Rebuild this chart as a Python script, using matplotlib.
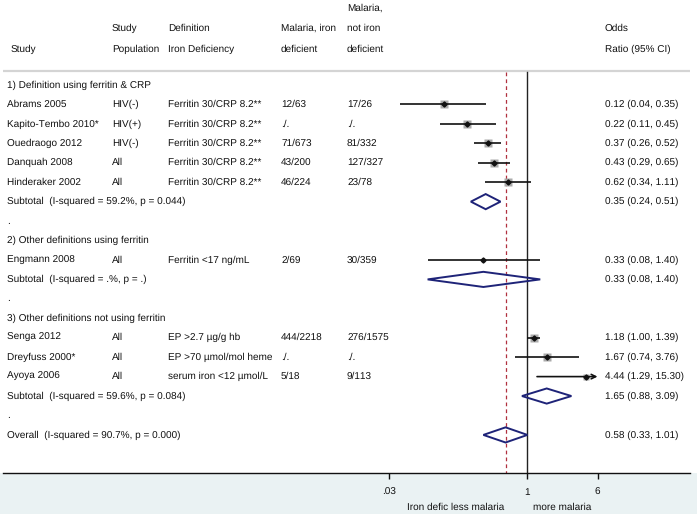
import matplotlib
matplotlib.use("Agg")
import matplotlib.pyplot as plt
from matplotlib.patches import Polygon, Rectangle
import numpy as np

plt.rcParams['font.family'] = ['Liberation Sans', 'DejaVu Sans']
plt.rcParams['text.hinting'] = 'no_hinting'
plt.rcParams['text.hinting_factor'] = 1

# ---------------- data ----------------
studies = ["Abrams 2005", "Kapito-Tembo 2010*", "Ouedraogo 2012", "Danquah 2008",
           "Hinderaker 2002", "Engmann 2008", "Senga 2012", "Dreyfuss 2000*", "Ayoya 2006"]
groups = [1, 1, 1, 1, 1, 2, 3, 3, 3]
population = ["HIV(-)", "HIV(+)", "HIV(-)", "All", "All", "All", "All", "All", "All"]
definition = ["Ferritin 30/CRP 8.2**", "Ferritin 30/CRP 8.2**", "Ferritin 30/CRP 8.2**",
              "Ferritin 30/CRP 8.2**", "Ferritin 30/CRP 8.2**", "Ferritin <17 ng/mL",
              "EP >2.7 µg/g hb", "EP >70 µmol/mol heme", "serum iron <12 µmol/L"]
mal_iron_def = ["12/63", "./.", "71/673", "43/200", "46/224", "2/69", "444/2218", "./.", "5/18"]
mal_not_def = ["17/26", "./.", "81/332", "127/327", "23/78", "30/359", "276/1575", "./.", "9/113"]
or_est = [0.12, 0.22, 0.37, 0.43, 0.62, 0.33, 1.18, 1.67, 4.44]
or_lo = [0.04, 0.11, 0.26, 0.29, 0.34, 0.08, 1.00, 0.74, 1.29]
or_hi = [0.35, 0.45, 0.52, 0.65, 1.11, 1.40, 1.39, 3.76, 15.30]
weights = [9.5, 10.5, 10.0, 11.5, 11.0, 4.0, 10.0, 9.0, 7.0]

group_titles = ["1) Definition using ferritin & CRP", "2) Other definitions using ferritin",
                "3) Other definitions not using ferritin"]
sub_labels = ["Subtotal  (I-squared = 59.2%, p = 0.044)", "Subtotal  (I-squared = .%, p = .)",
              "Subtotal  (I-squared = 59.6%, p = 0.084)"]
sub_est = [0.35, 0.33, 1.65]
sub_lo = [0.24, 0.08, 0.88]
sub_hi = [0.51, 1.40, 3.09]

overall_label = "Overall  (I-squared = 90.7%, p = 0.000)"
overall_est, overall_lo, overall_hi = 0.58, 0.33, 1.01

tick_vals = [0.03, 1, 6]
tick_labels = [".03", "1", "6"]
fav_left = "Iron defic less malaria"
fav_right = "more malaria"

# ---------------- layout ----------------
W, H = 697, 514
fig = plt.figure(figsize=(W / 100, H / 100), dpi=100)
fig.patch.set_facecolor("white")

ax_left_px, ax_right_px = 3, 690
ax_bottom_px = 472.5  # from top
band = Rectangle((0, 0), 1, (H - ax_bottom_px) / H, transform=fig.transFigure,
                 facecolor="#EAF2F3", edgecolor="none", zorder=-5)
fig.patches.append(band)
ax = fig.add_axes([ax_left_px / W, (H - ax_bottom_px) / H,
                   (ax_right_px - ax_left_px) / W, ax_bottom_px / H])
ax.set_facecolor("white")
ax.set_zorder(2)

px_per_dec = 90.6
x_one = 527.0
def px2val(px):
    return 10 ** ((px - x_one) / px_per_dec)

ax.set_xscale("log")
ax.set_xlim(px2val(ax_left_px), px2val(ax_right_px))

row0_px, row_h = 85.0, 19.44
def py2row(py):
    return (py - row0_px) / row_h
ax.set_ylim(py2row(ax_bottom_px), py2row(0))

for s in ["top", "left", "right"]:
    ax.spines[s].set_visible(False)
ax.spines["bottom"].set_color("#111111")
ax.spines["bottom"].set_linewidth(1.0)
ax.set_yticks([])
ax.set_xticks(tick_vals)
ax.set_xticklabels(tick_labels)
ax.xaxis.set_minor_locator(matplotlib.ticker.NullLocator())
ax.tick_params(axis="x", direction="out", length=4, width=1, colors="#111111",
               labelsize=6.9, pad=7)

FS = 6.9
TC = "#111111"
def xf(px):
    return (px - ax_left_px) / (ax_right_px - ax_left_px)
trans = ax.get_yaxis_transform()  # x axes-frac, y data

def txt(px, row, s, **kw):
    ax.text(xf(px), row, s, transform=trans, fontsize=FS, color=TC, va="center", ha="left", **kw)

col_study, col_pop, col_def, col_m1, col_m2, col_or = 7, 112, 168, 281, 347, 605

# headers
hdr_rows = [py2row(8), py2row(28.5), py2row(49)]
txt(11, hdr_rows[2], "Study")
txt(col_pop, hdr_rows[1], "Study")
txt(col_pop, hdr_rows[2], "Population")
txt(col_def, hdr_rows[1], "Definition")
txt(col_def, hdr_rows[2], "Iron Deficiency")
txt(col_m1, hdr_rows[1], "Malaria, iron")
txt(col_m1, hdr_rows[2], "deficient")
txt(col_m2, hdr_rows[0], "Malaria,")
txt(col_m2, hdr_rows[1], "not iron")
txt(col_m2, hdr_rows[2], "deficient")
txt(col_or, hdr_rows[1], "Odds")
txt(col_or, hdr_rows[2], "Ratio (95% CI)")

ax.plot([0, 1], [py2row(70.5)] * 2, transform=trans, color="#D4D4D4", lw=1.6,
        solid_capstyle="butt", clip_on=False)

xmax_clip = tick_vals[-1]
diamond_color = "#1E2378"

def diamond(row, est, lo, hi):
    hh = 0.39
    poly = Polygon([[lo, row], [est, row - hh], [hi, row], [est, row + hh]], closed=True,
                   facecolor="none", edgecolor=diamond_color, lw=1.4, zorder=4)
    ax.add_patch(poly)

row = 0
for g in range(3):
    txt(col_study, row, group_titles[g])
    row += 1
    for i in range(len(studies)):
        if groups[i] != g + 1:
            continue
        txt(col_study, row, studies[i])
        txt(col_pop, row, population[i])
        txt(col_def, row, definition[i])
        txt(col_m1, row, mal_iron_def[i])
        txt(col_m2, row, mal_not_def[i])
        txt(col_or, row, f"{or_est[i]:.2f} ({or_lo[i]:.2f}, {or_hi[i]:.2f})")
        side_px = 2.4 * np.sqrt(weights[i])
        ax.plot([or_est[i]], [row], marker="s", ms=side_px * 0.72, color="#ABABAB",
                mec="none", zorder=3)
        if or_hi[i] > xmax_clip:
            ax.annotate("", xy=(xmax_clip, row), xytext=(or_lo[i], row),
                        arrowprops=dict(arrowstyle="->", lw=1.2, color="#111111",
                                        shrinkA=0, shrinkB=0, mutation_scale=8), zorder=5)
        else:
            ax.plot([or_lo[i], or_hi[i]], [row, row], color="#111111", lw=1.2, zorder=5,
                    solid_capstyle="butt")
        ax.plot([or_est[i]], [row], marker="D", ms=2.6, color="#111111", zorder=6)
        row += 1
    txt(col_study, row, sub_labels[g])
    txt(col_or, row, f"{sub_est[g]:.2f} ({sub_lo[g]:.2f}, {sub_hi[g]:.2f})")
    diamond(row, sub_est[g], sub_lo[g], sub_hi[g])
    row += 1
    txt(col_study, row, ".")
    row += 1

txt(col_study, row, overall_label)
txt(col_or, row, f"{overall_est:.2f} ({overall_lo:.2f}, {overall_hi:.2f})")
diamond(row, overall_est, overall_lo, overall_hi)

line_top = py2row(72)
ybot = py2row(ax_bottom_px)
ax.plot([1, 1], [line_top, ybot], color="#222222", lw=1.0, zorder=2)
ax.plot([overall_est, overall_est], [line_top, ybot], color="#B0303F", lw=0.9,
        dashes=(3, 2.5), zorder=2)

# favours labels
fav_y = 1 - (507 - 0) / ax_bottom_px
ax.text(px2val(504), fav_y, fav_left, transform=ax.get_xaxis_transform(), fontsize=FS,
        color=TC, ha="right", va="center", clip_on=False)
ax.text(px2val(533), fav_y, fav_right, transform=ax.get_xaxis_transform(), fontsize=FS,
        color=TC, ha="left", va="center", clip_on=False)

fig.savefig("out.png", dpi=100, facecolor=fig.get_facecolor())
